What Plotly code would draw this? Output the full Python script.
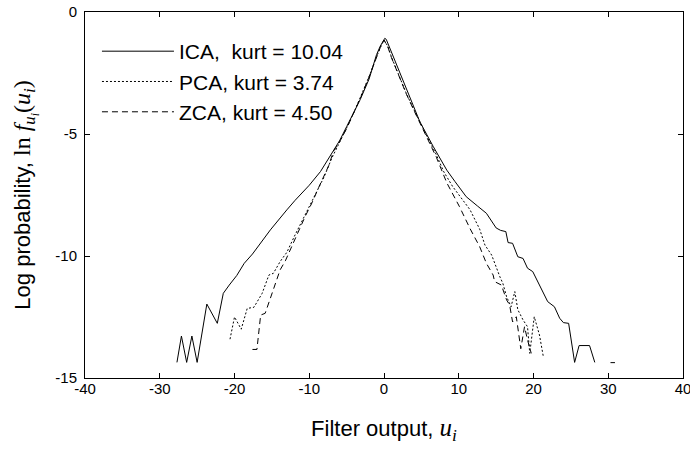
import plotly.graph_objects as go

# ICA filter output log-density (solid)
ica_x = [-27.7, -27.1, -26.4, -25.7, -25.0, -23.7, -22.3, -21.5, -20.7, -19.7,
         -18.7, -17.6, -16.7, -15.2, -13.0, -11.9, -10.0, -8.5, -6.8, -5.9,
         -5.0, -4.0, -3.2, -2.0, -1.0, -0.5, -0.2, 0.1, 0.3, 0.6,
         1.2, 2.1, 3.5, 4.8, 6.6, 8.4, 9.5, 11.0, 12.5, 13.7,
         15.0, 15.6, 16.3, 16.6, 17.2, 17.9, 18.6, 19.2, 19.9, 20.8,
         21.9, 22.8, 23.5, 24.0, 24.7, 25.5, 26.1, 27.5, 28.2, None,
         30.3, 30.9]
ica_y = [-14.36, -13.28, -14.36, -13.28, -14.36, -11.97, -12.76, -11.53, -11.19, -10.80,
         -10.30, -9.92, -9.55, -8.93, -8.11, -7.72, -7.10, -6.54, -5.70, -5.25,
         -4.70, -4.10, -3.60, -2.75, -1.75, -1.40, -1.25, -1.08, -1.12, -1.35,
         -1.75, -2.48, -3.55, -4.50, -5.52, -6.48, -6.95, -7.57, -7.95, -8.25,
         -8.85, -8.95, -9.00, -9.45, -9.48, -10.03, -10.10, -10.50, -10.64, -11.19,
         -11.87, -12.08, -12.55, -12.73, -12.76, -14.36, -13.67, -13.67, -14.36, None,
         -14.37, -14.37]

# PCA (dotted)
pca_x = [-20.6, -20.0, -19.1, -18.3, -17.4, -16.3, -15.4, -14.8, -13.9, -13.0,
         -12.0, -11.0, -10.0, -9.0, -8.0, -7.0, -6.0, -5.0, -4.0, -3.0,
         -2.0, -1.0, -0.5, 0.0, 0.5, 1.0, 2.0, 3.0, 4.0, 5.0,
         6.0, 7.0, 8.0, 9.2, 10.3, 11.5, 12.8, 13.5, 14.4, 14.8,
         15.5, 15.9, 16.4, 17.0, 17.5, 17.9, 18.6, 19.2, 19.5, 20.1,
         20.8, 21.3]
pca_y = [-13.41, -12.50, -13.00, -12.15, -12.10, -11.53, -10.78, -10.71, -10.23, -9.85,
         -9.20, -8.60, -8.00, -7.35, -6.75, -6.00, -5.40, -4.75, -4.10, -3.40,
         -2.65, -1.85, -1.45, -1.15, -1.40, -1.85, -2.60, -3.35, -4.00, -4.65,
         -5.25, -5.85, -6.55, -7.16, -7.60, -8.10, -8.90, -9.55, -9.96, -10.30,
         -10.85, -11.12, -11.67, -12.08, -11.46, -12.20, -12.62, -12.90, -13.99, -12.49,
         -13.24, -14.10]

# ZCA (dashed)
zca_x = [-17.6, -17.0, -16.5, -15.9, -15.2, -14.5, -13.9, -13.2, -12.5, -11.6,
         -10.5, -9.6, -8.75, -8.1, -7.4, -6.75, -6.0, -5.0, -4.0, -3.0,
         -2.0, -1.0, -0.5, 0.0, 0.5, 1.0, 2.0, 3.0, 4.0, 5.0,
         6.0, 7.0, 8.4, 10.1, 11.5, 12.8, 13.7, 14.6, 14.8, 15.7,
         16.4, 16.8, 17.2, 17.7, 18.3, 18.8, 19.2, 19.7]
zca_y = [-13.83, -13.83, -12.42, -12.35, -11.73, -11.12, -10.57, -10.20, -9.75, -9.10,
         -8.35, -7.80, -7.20, -6.80, -6.30, -5.70, -5.35, -4.78, -4.12, -3.42,
         -2.66, -1.86, -1.46, -1.15, -1.42, -1.87, -2.62, -3.37, -4.03, -4.68,
         -5.30, -5.95, -7.00, -7.98, -8.87, -9.62, -10.30, -10.78, -11.05, -11.19,
         -11.80, -12.00, -12.70, -12.49, -13.80, -12.90, -13.44, -13.99]

x_ticks = [-40, -30, -20, -10, 0, 10, 20, 30, 40]
y_ticks = [-15, -10, -5, 0]

series = [
    ("ICA,\u00a0 kurt = 10.04", ica_x, ica_y, "solid"),
    ("PCA, kurt = 3.74", pca_x, pca_y, "2px,2px"),
    ("ZCA, kurt = 4.50", zca_x, zca_y, "6px,4px"),
]

FONT = "Liberation Sans, Arial, sans-serif"
SERIF = "Liberation Serif, Times New Roman, serif"

fig = go.Figure()
for name, xs, ys, dash in series:
    fig.add_trace(go.Scatter(
        x=xs, y=ys, mode="lines", name=name,
        line=dict(color="black", width=1, dash=dash),
        connectgaps=False,
    ))

axis_common = dict(
    showline=True, linecolor="black", linewidth=1, mirror="ticks",
    ticks="inside", ticklen=5, tickcolor="black",
    showgrid=False, zeroline=False, automargin=False,
    ticklabeloverflow="allow",
    tickfont=dict(family=FONT, size=15, color="black"),
)

xlab = ("Filter output, <span style='font-family:%s;font-size:25px'>"
        "<i>u<sub>i</sub></i></span>" % SERIF)
ylab = ("Log probability, <span style='font-family:%s;font-size:24px'>ln <i>f</i>"
        "<sub><i>u<sub>i</sub></i></sub>(<i>u<sub>i</sub></i>)</span>" % SERIF)

fig.update_layout(
    width=690, height=452,
    margin=dict(l=85, r=7, t=12, b=74),
    paper_bgcolor="white", plot_bgcolor="white",
    font=dict(family=FONT, color="black"),
    xaxis=dict(range=[-40, 40], tickvals=x_ticks, ticktext=[str(v) for v in x_ticks],
               ticklabelstandoff=-3, **axis_common,
               title=dict(text=xlab, font=dict(size=22), standoff=24)),
    yaxis=dict(range=[-15, 0], tickvals=y_ticks, ticktext=[str(v) for v in y_ticks],
               ticklabelstandoff=4, **axis_common,
               title=dict(text=ylab, font=dict(size=22), standoff=18)),
    legend=dict(x=0.02, y=0.948, xanchor="left", yanchor="top",
                bgcolor="rgba(0,0,0,0)", font=dict(size=21),
                itemwidth=72, tracegroupgap=3),
    showlegend=True,
)

fig.write_html("out.html", config={"displayModeBar": False},
               post_script="document.body.style.margin = '0px';")
